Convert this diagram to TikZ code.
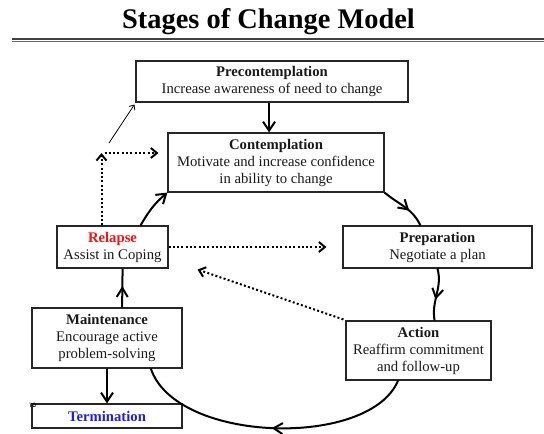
\documentclass[tikz,border=0pt]{standalone}
\usepackage{fontspec}
\setmainfont{Liberation Serif}
\newfontfamily\arabicfont[Script=Arabic]{DejaVu Sans}
\usetikzlibrary{arrows.meta,calc,decorations.markings}

\definecolor{relapsered}{RGB}{245,20,20}
\definecolor{termblue}{RGB}{30,30,235}

\tikzset{
  stage/.style={draw=black!85, line width=1.1pt, inner sep=0pt, align=center,
    font=\fontsize{14.7}{17}\selectfont, text=black!90},
  cyc/.style={line width=2pt},
  tipbig/.style={-{Straight Barb[length=9pt,width=12pt]}},
  tipdot/.style={-{Straight Barb[length=6pt,width=10pt]}},
  midarrow/.style={postaction=decorate, decoration={markings,
    mark=at position #1 with {\arrow{Straight Barb[length=9pt,width=11pt]}}}},
  dots/.style={line width=2pt, dash pattern=on 2pt off 2.3pt},
}

\begin{document}
\begin{tikzpicture}[x=1pt,y=1pt]
  \path[use as bounding box] (0,0) rectangle (544,-434);

  % heading with its double rule
  \node[anchor=base, inner sep=0pt, font=\fontsize{28.4}{30}\selectfont\bfseries] (title) at (268.5,-28.5) {Stages of Change Model};
  \draw[line width=2pt, black!75] (12,-38.5) coordinate (ruleA) -- (544,-38.5) coordinate (ruleB);
  \draw[line width=1pt, black!60] (12,-41.6) coordinate (ruleC) -- (544,-41.6) coordinate (ruleD);

  % stages
  \node[stage, minimum width=272pt, minimum height=41pt] (pre) at (272,-81.5)
    {\textbf{Precontemplation}\\Increase awareness of need to change};
  \node[stage, minimum width=216pt, minimum height=59pt] (cont) at (276,-162.5)
    {\textbf{Contemplation}\\Motivate and increase confidence\\in ability to change};
  \node[stage, minimum width=111pt, minimum height=42pt] (rel) at (112.5,-247)
    {\textcolor{relapsered}{\textbf{Relapse}}\\Assist in Coping};
  \node[stage, minimum width=189pt, minimum height=42pt] (prep) at (437.5,-247)
    {\textbf{Preparation}\\Negotiate a plan};
  \node[stage, minimum width=145pt, minimum height=59pt] (act) at (418.5,-350.5)
    {\textbf{Action}\\Reaffirm commitment\\and follow-up};
  \node[stage, minimum width=150pt, minimum height=60pt] (maint) at (107,-338)
    {\textbf{Maintenance}\\Encourage active\\problem-solving};
  \node[stage, minimum width=150pt, minimum height=24pt] (term) at (107,-416)
    {\textcolor{termblue}{\textbf{Termination}}};

  \node[anchor=base, inner sep=0pt, font=\arabicfont\fontsize{7}{7}\selectfont] (pg) at (32.5,-407.5) {۱۵};

  % the cycle
  \coordinate (contTop) at ($(cont.north west)!0.468!(cont.north east)$);
  \draw[cyc, tipbig] (contTop |- pre.south) -- (contTop);
  \draw[cyc, midarrow=0.62] (cont.south east)
    to[out=-40,in=115] ($(prep.north west)!0.41!(prep.north east)$);
  \draw[cyc, midarrow=0.6] (prep.south)
    to[out=-75,in=100] ($(act.north west)!0.61!(act.north east)$);
  \draw[cyc, midarrow=0.5] ($(act.south west)!0.36!(act.south east)$)
    .. controls +(-28,-68) and +(25,-75) .. ($(maint.south west)!0.79!(maint.south east)$);
  \draw[cyc, midarrow=0.55] ($(maint.north west)!0.6!(maint.north east)$)
    -- ($(rel.south west)!0.59!(rel.south east)$);
  \draw[cyc, tipbig] ($(rel.north west)!0.75!(rel.north east)$)
    to[out=60,in=-140] (cont.south west);
  \draw[cyc, tipbig] (maint.south -| term.north) -- (term.north);

  % return paths after a relapse
  \coordinate (turn) at (101.5,-153);
  \coordinate (contIn) at ($(turn -| cont.west)+(-9,0)$);
  \coordinate (prepIn) at ($(prep.west)+(-16,0)$);
  \coordinate (relIn) at ($(rel.south east)+(29,-1)$);
  \coordinate (lapse) at (109,-143);
  \draw[dots, tipdot] (rel.north -| turn) -- (turn);
  \draw[dots, tipdot] ($(turn)+(3,0)$) -- (contIn);
  \draw[dots, tipdot] (rel.east) -- (prepIn);
  \draw[dots, tipdot] ($(act.north west)+(-2,1)$) -- (relIn);
  \draw[line width=0.8pt, -{Straight Barb[length=4pt,width=7pt]}] (lapse) -- ($(pre.south west)+(-1,-2)$);
\end{tikzpicture}
\end{document}
